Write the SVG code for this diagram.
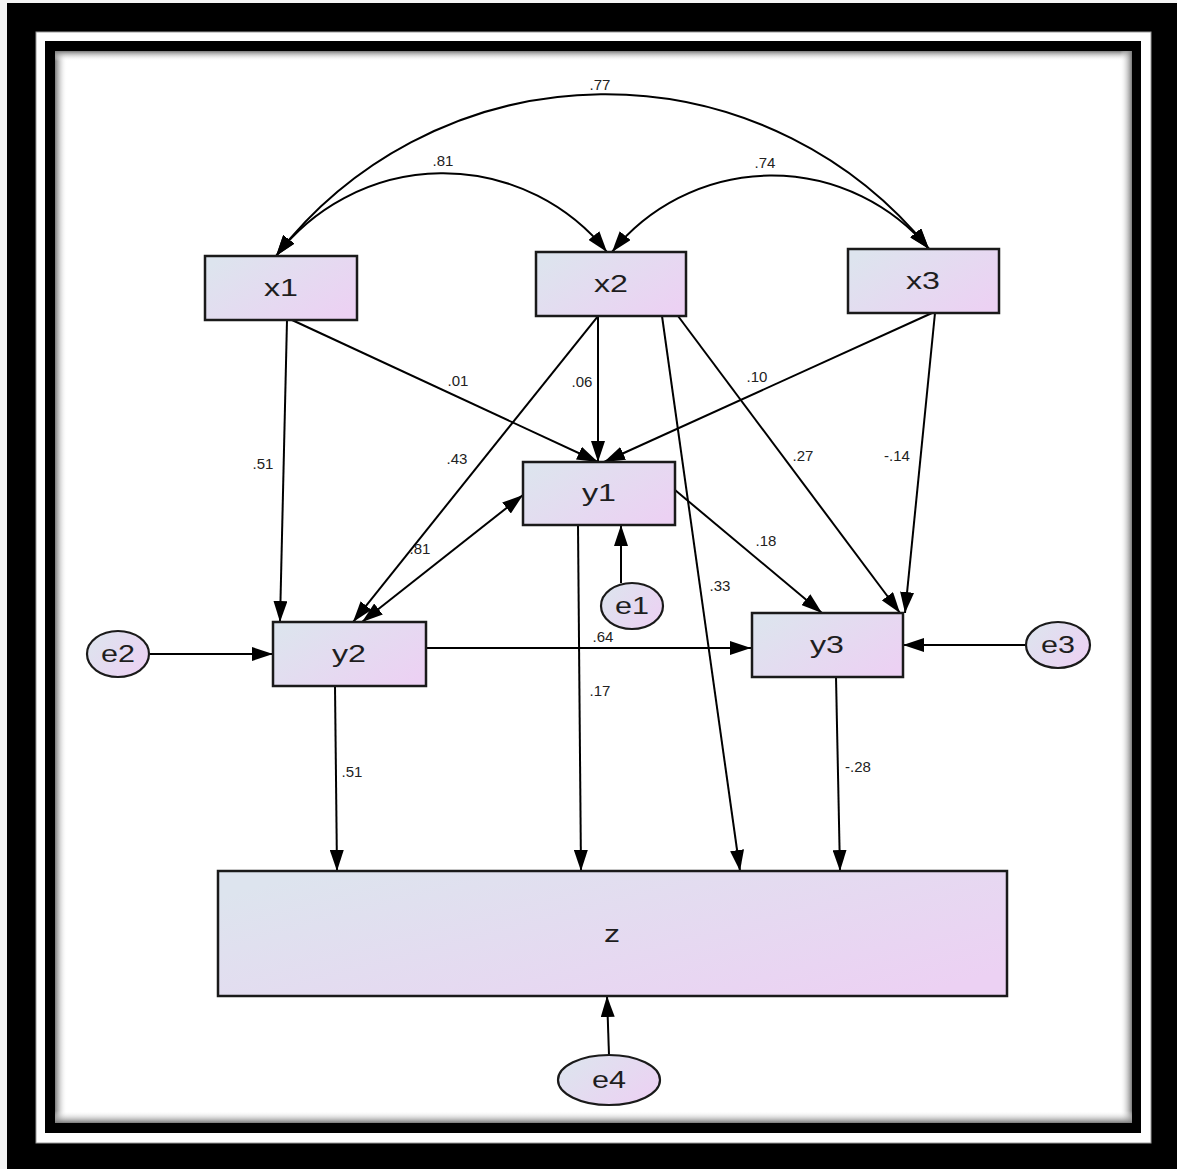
<svg xmlns="http://www.w3.org/2000/svg" width="1177" height="1169" viewBox="0 0 1177 1169">
  <style>
    .box { stroke: #1a1a1a; stroke-width: 2.5; fill: url(#nodeFill); }
    .err { stroke: #1a1a1a; stroke-width: 2.2; fill: url(#nodeFill); }
    .name { font-family: "Liberation Sans", Arial, sans-serif; font-size: 23px; fill: #1e1e1e; text-anchor: middle; dominant-baseline: central; }
    .coef { font-family: "Liberation Sans", Arial, sans-serif; font-size: 15px; fill: #222; text-anchor: middle; dominant-baseline: central; }
    .link { fill: none; stroke: #000; stroke-width: 2; marker-end: url(#ah); }
    .cov { fill: none; stroke: #000; stroke-width: 2; marker-start: url(#ah); marker-end: url(#ah); }
  </style>
  <defs>
    <linearGradient id="nodeFill" x1="0" y1="0.2" x2="1" y2="0.8">
      <stop offset="0" stop-color="#dde4ee"/>
      <stop offset="1" stop-color="#ecd1f3"/>
    </linearGradient>
    <linearGradient id="shL" x1="0" y1="0" x2="1" y2="0">
      <stop offset="0" stop-color="#7a7a7a"/>
      <stop offset="1" stop-color="#ffffff" stop-opacity="0"/>
    </linearGradient>
    <linearGradient id="shR" x1="1" y1="0" x2="0" y2="0">
      <stop offset="0" stop-color="#7a7a7a"/>
      <stop offset="1" stop-color="#ffffff" stop-opacity="0"/>
    </linearGradient>
    <linearGradient id="shT" x1="0" y1="0" x2="0" y2="1">
      <stop offset="0" stop-color="#7a7a7a"/>
      <stop offset="1" stop-color="#ffffff" stop-opacity="0"/>
    </linearGradient>
    <linearGradient id="shB" x1="0" y1="1" x2="0" y2="0">
      <stop offset="0" stop-color="#7a7a7a"/>
      <stop offset="1" stop-color="#ffffff" stop-opacity="0"/>
    </linearGradient>
    <marker id="ah" viewBox="0 0 21 14" refX="21" refY="7" markerWidth="21" markerHeight="14" markerUnits="userSpaceOnUse" orient="auto-start-reverse">
      <path d="M0,0 L21,7 L0,14 z" fill="#000"/>
    </marker>
  </defs>

  <!-- frame -->
  <g id="frame">
    <rect x="0" y="0" width="1177" height="1169" fill="#f4f4f4"/>
    <rect x="7" y="3" width="1170" height="1166" fill="#000"/>
    <rect x="36" y="32" width="1115" height="1111" fill="#fff" stroke="#999" stroke-width="1"/>
    <rect x="45" y="41" width="1096" height="1092" fill="#000"/>
    <rect x="55" y="51" width="1077" height="1072" fill="#fff"/>
    <rect x="55" y="51" width="12" height="1072" fill="url(#shL)"/>
    <rect x="55" y="51" width="1077" height="10" fill="url(#shT)"/>
    <rect x="1120" y="51" width="12" height="1072" fill="url(#shR)"/>
    <rect x="55" y="1111" width="1077" height="12" fill="url(#shB)"/>
  </g>

  <!-- paths and covariances -->
  <g id="connectors">
    <path class="cov" d="M276,256 A416,416 0 0 1 929,249"/>
    <path class="cov" d="M276,256 A210,210 0 0 1 607,252"/>
    <path class="cov" d="M612,252 A205,205 0 0 1 929,249"/>

    <path class="link" d="M287,320 L280,622"/>
    <path class="link" d="M292,320 L598,462"/>
    <path class="link" d="M598,316 L598,462"/>
    <path class="link" d="M598,316 L353,622"/>
    <path class="link" d="M662,316 L740,871"/>
    <path class="link" d="M678,316 L900,613"/>
    <path class="link" d="M932,313 L604,462"/>
    <path class="link" d="M935,313 L905,613"/>
    <path class="cov" d="M362,622 L523,495"/>
    <path class="link" d="M675,490 L822,613"/>
    <path class="link" d="M578,525 L581,871"/>
    <path class="link" d="M621,583 L621,525"/>
    <path class="link" d="M426,648 L751,648"/>
    <path class="link" d="M149,654 L273,654"/>
    <path class="link" d="M1026,645 L903,645"/>
    <path class="link" d="M335,686 L337,871"/>
    <path class="link" d="M836,677 L840,871"/>
    <path class="link" d="M609,1055 L607,996"/>
  </g>

  <!-- coefficients -->
  <g id="coefficients">
    <text class="coef" x="600" y="84">.77</text>
    <text class="coef" x="443" y="160">.81</text>
    <text class="coef" x="765" y="162">.74</text>
    <text class="coef" x="458" y="380">.01</text>
    <text class="coef" x="582" y="381">.06</text>
    <text class="coef" x="757" y="376">.10</text>
    <text class="coef" x="263" y="463">.51</text>
    <text class="coef" x="457" y="458">.43</text>
    <text class="coef" x="803" y="455">.27</text>
    <text class="coef" x="897" y="455">-.14</text>
    <text class="coef" x="420" y="548">.81</text>
    <text class="coef" x="766" y="540">.18</text>
    <text class="coef" x="720" y="585">.33</text>
    <text class="coef" x="603" y="636">.64</text>
    <text class="coef" x="600" y="690">.17</text>
    <text class="coef" x="352" y="771">.51</text>
    <text class="coef" x="858" y="766">-.28</text>
  </g>

  <!-- observed variables -->
  <g id="x1"><rect class="box" x="205" y="256" width="152" height="64"/><text class="name" x="281" y="288" textLength="34" lengthAdjust="spacingAndGlyphs">x1</text></g>
  <g id="x2"><rect class="box" x="536" y="252" width="150" height="64"/><text class="name" x="611" y="284" textLength="34" lengthAdjust="spacingAndGlyphs">x2</text></g>
  <g id="x3"><rect class="box" x="848" y="249" width="151" height="64"/><text class="name" x="923" y="281" textLength="34" lengthAdjust="spacingAndGlyphs">x3</text></g>
  <g id="y1"><rect class="box" x="523" y="462" width="152" height="63"/><text class="name" x="599" y="493" textLength="34" lengthAdjust="spacingAndGlyphs">y1</text></g>
  <g id="y2"><rect class="box" x="273" y="622" width="153" height="64"/><text class="name" x="349" y="654" textLength="34" lengthAdjust="spacingAndGlyphs">y2</text></g>
  <g id="y3"><rect class="box" x="752" y="613" width="151" height="64"/><text class="name" x="827" y="645" textLength="34" lengthAdjust="spacingAndGlyphs">y3</text></g>
  <g id="z"><rect class="box" x="218" y="871" width="789" height="125"/><text class="name" x="612" y="934" textLength="16" lengthAdjust="spacingAndGlyphs">z</text></g>

  <!-- error terms -->
  <g id="e1"><ellipse class="err" cx="632" cy="606" rx="31" ry="23"/><text class="name" x="632" y="606" textLength="34" lengthAdjust="spacingAndGlyphs">e1</text></g>
  <g id="e2"><ellipse class="err" cx="118" cy="654" rx="31" ry="23"/><text class="name" x="118" y="654" textLength="34" lengthAdjust="spacingAndGlyphs">e2</text></g>
  <g id="e3"><ellipse class="err" cx="1058" cy="645" rx="32" ry="23"/><text class="name" x="1058" y="645" textLength="34" lengthAdjust="spacingAndGlyphs">e3</text></g>
  <g id="e4"><ellipse class="err" cx="609" cy="1080" rx="51" ry="25"/><text class="name" x="609" y="1080" textLength="34" lengthAdjust="spacingAndGlyphs">e4</text></g>
</svg>
